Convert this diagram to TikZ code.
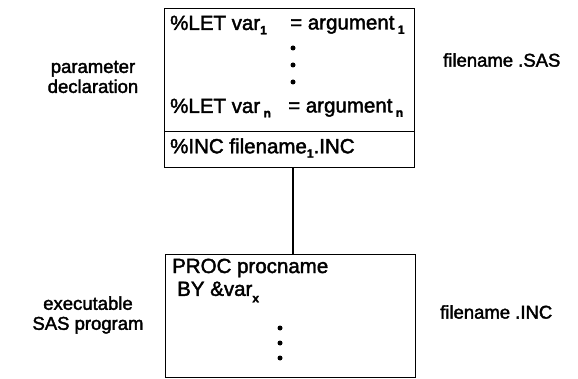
\documentclass[tikz,border=0pt]{standalone}
\usepackage{fontspec}
\setmainfont{Liberation Sans}[FakeBold=2.5]
\newfontfamily\heavy{Liberation Sans}[FakeBold=2]
\newcommand{\mysb}[1]{\raisebox{-0.4ex}{\fontsize{12}{12}\selectfont\bfseries #1}}
\begin{document}
\begin{tikzpicture}[x=1pt,y=-1pt,
  box/.style={draw,line width=1.4pt,rectangle,inner sep=0pt,anchor=north west},
  txt/.style={inner sep=0pt,anchor=west,font=\heavy\fontsize{20.5}{22}\selectfont},
  lbl/.style={inner sep=0pt,align=center,font=\heavy\fontsize{18.5}{20}\selectfont},
  dotc/.style={circle,fill,inner sep=0pt,minimum size=5pt}]
\useasboundingbox (0,0) rectangle (578,379);
% boxes
\node[box,minimum width=250pt,minimum height=123pt] (decl) at (164,8) {};
\node[box,minimum width=250pt,minimum height=36pt] (inc) at (164,131) {};
\node[box,minimum width=250pt,minimum height=123pt] (prog) at (165,254) {};
\coordinate (link) at (293,0);
\draw[line width=1.4pt] (inc.south -| link) -- (prog.north -| link);
% top box text
\node[txt] (l1) at (170,25) {\%LET var\mysb{1}};
\node[txt] (a1) at (290,25) {= argument\,\mysb{1}};
\node[dotc] (d1) at (293,48) {};
\node[dotc] (d2) at (293,65) {};
\node[dotc] (d3) at (293,82) {};
\node[txt] (ln) at (170,108) {\%LET var\,\mysb{n}};
\node[txt] (an) at (288,108) {= argument\,\mysb{n}};
\node[txt] (i1) at (170,148) {\%INC filename\mysb{1}.INC};
% lower box text
\node[txt] (p1) at (172,268) {PROC procname};
\node[txt] (p2) at (177,292) {BY \&var\raisebox{-0.2ex}{\mysb{x}}};
\node[dotc] (e1) at (280,328) {};
\node[dotc] (e2) at (280,343) {};
\node[dotc] (e3) at (280,358) {};
% side labels
\node[lbl] (pd) at (93,77) {parameter\\declaration};
\node[lbl] (ex) at (88,315) {executable\\SAS program};
\node[lbl,anchor=west] (fs) at (443,60) {filename .SAS};
\node[lbl,anchor=west] (fi) at (440,312) {filename .INC};
\end{tikzpicture}
\end{document}
